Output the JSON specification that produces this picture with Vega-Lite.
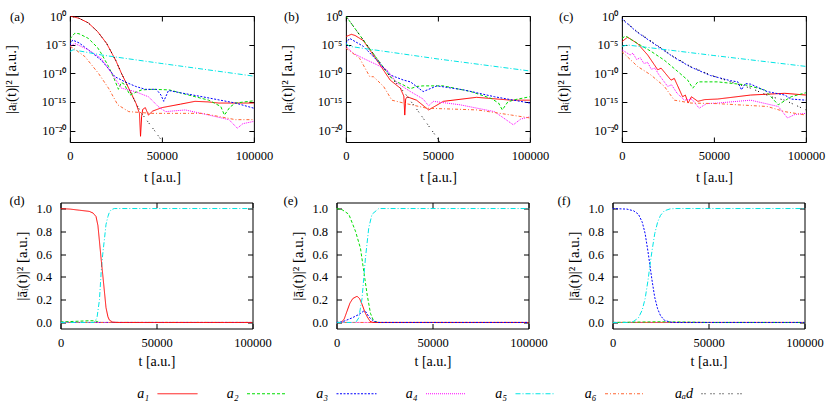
{
  "$schema": "https://vega.github.io/schema/vega-lite/v6.json",
  "padding": {"left": 2.5, "top": 9, "right": 0, "bottom": 0},
  "config": {
    "font": "Liberation Serif",
    "view": {"stroke": "black", "strokeWidth": 1},
    "axis": {
      "domain": false, "grid": false, "tickColor": "black", "tickSize": -5, "tickWidth": 1,
      "labelFont": "Liberation Serif", "labelFontSize": 12.5, "labelColor": "black",
      "titleFont": "Liberation Serif", "titleFontSize": 14, "titleFontWeight": "normal", "titleColor": "black",
      "labelFlush": false, "labelOverlap": false, "labelBound": false
    },
    "axisY": {"titleFontSize": 15},
    "title": {"font": "Liberation Serif", "fontSize": 13, "fontWeight": "normal", "anchor": "start", "frame": "group", "offset": 0, "baseline": "middle", "color": "black"},
    "legend": {
      "orient": "none", "legendX": 96.5, "legendY": 357, "direction": "horizontal", "columns": 7,
      "symbolType": "stroke", "symbolSize": 1600, "symbolStrokeWidth": 1, "columnPadding": 26.5,
      "labelAlign": "right", "labelOffset": -49,
      "labelFont": "Liberation Serif", "labelFontSize": 14, "labelFontStyle": "italic", "labelColor": "black"
    }
  },
  "datasets": {
    "a": [
      {"series":"a1","t":0,"v":1},{"series":"a1","t":5000,"v":0.398},{"series":"a1","t":10000,"v":0.0631},{"series":"a1","t":15000,"v":0.002},{"series":"a1","t":20000,"v":1.58e-5},{"series":"a1","t":25000,"v":1.58e-8},{"series":"a1","t":28000,"v":1e-10},{"series":"a1","t":30000,"v":5.01e-12},{"series":"a1","t":33000,"v":5.01e-14},{"series":"a1","t":36000,"v":5.01e-16},{"series":"a1","t":37800,"v":1e-17},{"series":"a1","t":38400,"v":1e-21},{"series":"a1","t":39000,"v":3.16e-18},{"series":"a1","t":39600,"v":5.01e-17},{"series":"a1","t":41000,"v":1e-16},{"series":"a1","t":42700,"v":5.01e-18},{"series":"a1","t":45000,"v":2.51e-17},{"series":"a1","t":50000,"v":1e-16},{"series":"a1","t":55000,"v":2e-16},{"series":"a1","t":60000,"v":3.98e-16},{"series":"a1","t":68000,"v":1.26e-15},{"series":"a1","t":75000,"v":1e-15},{"series":"a1","t":81000,"v":6.31e-16},{"series":"a1","t":90000,"v":6.31e-16},{"series":"a1","t":100000,"v":6.31e-16},
      {"series":"a2","t":0,"v":1e-4},{"series":"a2","t":2700,"v":1e-3},{"series":"a2","t":5000,"v":7.94e-4},{"series":"a2","t":10000,"v":1.26e-4},{"series":"a2","t":15000,"v":3.16e-6},{"series":"a2","t":17000,"v":3.16e-7},{"series":"a2","t":21000,"v":1.58e-9},{"series":"a2","t":23600,"v":2.51e-11},{"series":"a2","t":26400,"v":1.58e-13},{"series":"a2","t":28000,"v":2.51e-12},{"series":"a2","t":29500,"v":1.26e-12},{"series":"a2","t":32700,"v":1.58e-14},{"series":"a2","t":36000,"v":5.01e-14},{"series":"a2","t":39000,"v":1.26e-13},{"series":"a2","t":45000,"v":1.58e-13},{"series":"a2","t":54000,"v":1.26e-13},{"series":"a2","t":64500,"v":1.58e-14},{"series":"a2","t":75500,"v":2e-15},{"series":"a2","t":82000,"v":1.58e-16},{"series":"a2","t":84000,"v":5.01e-18},{"series":"a2","t":87000,"v":1.26e-16},{"series":"a2","t":90000,"v":6.31e-16},{"series":"a2","t":100000,"v":1.58e-15},
      {"series":"a3","t":0,"v":1e-5},{"series":"a3","t":1500,"v":6.31e-5},{"series":"a3","t":5000,"v":2e-5},{"series":"a3","t":10000,"v":1.26e-6},{"series":"a3","t":17000,"v":2e-8},{"series":"a3","t":20000,"v":1.58e-9},{"series":"a3","t":24500,"v":2.51e-11},{"series":"a3","t":30000,"v":3.16e-12},{"series":"a3","t":35800,"v":5.01e-13},{"series":"a3","t":41000,"v":1.58e-13},{"series":"a3","t":47000,"v":1.58e-13},{"series":"a3","t":49500,"v":1.58e-14},{"series":"a3","t":51000,"v":1.26e-15},{"series":"a3","t":53600,"v":1e-13},{"series":"a3","t":60000,"v":3.98e-14},{"series":"a3","t":72000,"v":7.94e-15},{"series":"a3","t":90000,"v":6.31e-16},{"series":"a3","t":100000,"v":7.94e-17},
      {"series":"a4","t":0,"v":5.01e-6},{"series":"a4","t":2700,"v":1.58e-5},{"series":"a4","t":10000,"v":1.26e-6},{"series":"a4","t":17000,"v":3.98e-8},{"series":"a4","t":22700,"v":1e-10},{"series":"a4","t":28000,"v":2.51e-13},{"series":"a4","t":35500,"v":6.31e-14},{"series":"a4","t":42700,"v":7.94e-15},{"series":"a4","t":48000,"v":1.58e-16},{"series":"a4","t":52000,"v":2e-17},{"series":"a4","t":62700,"v":3.98e-17},{"series":"a4","t":75500,"v":5.01e-18},{"series":"a4","t":86500,"v":7.94e-19},{"series":"a4","t":91000,"v":2.51e-20},{"series":"a4","t":94000,"v":1.58e-19},{"series":"a4","t":100000,"v":3.98e-19},
      {"series":"a5","t":0,"v":6.31e-7},{"series":"a5","t":1800,"v":1.26e-6},{"series":"a5","t":17000,"v":1.58e-7},{"series":"a5","t":50000,"v":5.01e-9},{"series":"a5","t":100000,"v":3.16e-11},
      {"series":"a6","t":0,"v":5.01e-6},{"series":"a6","t":1800,"v":2.51e-6},{"series":"a6","t":8200,"v":7.94e-8},{"series":"a6","t":15500,"v":1e-10},{"series":"a6","t":21000,"v":2.51e-13},{"series":"a6","t":26000,"v":3.16e-16},{"series":"a6","t":32000,"v":2e-17},{"series":"a6","t":44500,"v":1e-17},{"series":"a6","t":72000,"v":1e-17},{"series":"a6","t":90000,"v":7.94e-19},{"series":"a6","t":100000,"v":7.94e-19},
      {"series":"ad","t":0,"v":1},{"series":"ad","t":5000,"v":0.398},{"series":"ad","t":10000,"v":0.0631},{"series":"ad","t":15000,"v":0.002},{"series":"ad","t":20000,"v":1.58e-5},{"series":"ad","t":25000,"v":1.58e-8},{"series":"ad","t":28000,"v":1e-10},{"series":"ad","t":30000,"v":5.01e-12},{"series":"ad","t":33000,"v":5.01e-14},{"series":"ad","t":36000,"v":5.01e-16},{"series":"ad","t":39000,"v":1e-17},{"series":"ad","t":42000,"v":5.01e-19},{"series":"ad","t":46000,"v":1e-20},{"series":"ad","t":50000,"v":1.58e-22},{"series":"ad","t":52000,"v":1.58e-23}
    ],
    "b": [
      {"series":"a1","t":0,"v":2.51e-4},{"series":"a1","t":3000,"v":6.31e-4},{"series":"a1","t":5000,"v":3.98e-4},{"series":"a1","t":9500,"v":5.01e-5},{"series":"a1","t":16800,"v":2e-8},{"series":"a1","t":24100,"v":6.31e-12},{"series":"a1","t":29600,"v":2.51e-13},{"series":"a1","t":31500,"v":1e-14},{"series":"a1","t":32000,"v":5.01e-18},{"series":"a1","t":32500,"v":3.16e-15},{"series":"a1","t":33300,"v":7.94e-15},{"series":"a1","t":38400,"v":2e-15},{"series":"a1","t":45000,"v":3.98e-17},{"series":"a1","t":53000,"v":1.26e-15},{"series":"a1","t":71000,"v":6.31e-15},{"series":"a1","t":90000,"v":2e-15},{"series":"a1","t":100000,"v":2e-15},
      {"series":"a2","t":0,"v":1},{"series":"a2","t":9500,"v":6.31e-5},{"series":"a2","t":16800,"v":3.98e-8},{"series":"a2","t":24100,"v":2.51e-11},{"series":"a2","t":27000,"v":3.98e-12},{"series":"a2","t":31000,"v":1e-12},{"series":"a2","t":35000,"v":2e-13},{"series":"a2","t":38500,"v":5.01e-13},{"series":"a2","t":42000,"v":6.31e-13},{"series":"a2","t":53000,"v":6.31e-13},{"series":"a2","t":68000,"v":6.31e-14},{"series":"a2","t":79000,"v":3.98e-15},{"series":"a2","t":83000,"v":6.31e-16},{"series":"a2","t":85000,"v":3.98e-17},{"series":"a2","t":88000,"v":1e-15},{"series":"a2","t":92000,"v":2.51e-15},{"series":"a2","t":100000,"v":7.94e-15},
      {"series":"a3","t":0,"v":1.58e-5},{"series":"a3","t":2000,"v":1.26e-4},{"series":"a3","t":9500,"v":5.01e-6},{"series":"a3","t":16800,"v":2e-8},{"series":"a3","t":24100,"v":5.01e-11},{"series":"a3","t":31400,"v":6.31e-12},{"series":"a3","t":35100,"v":3.16e-12},{"series":"a3","t":42000,"v":6.31e-14},{"series":"a3","t":49500,"v":6.31e-13},{"series":"a3","t":64000,"v":1.26e-13},{"series":"a3","t":80800,"v":7.94e-15},{"series":"a3","t":100000,"v":6.31e-16},
      {"series":"a4","t":0,"v":5.01e-6},{"series":"a4","t":4000,"v":3.16e-7},{"series":"a4","t":9500,"v":3.98e-8},{"series":"a4","t":16800,"v":3.16e-9},{"series":"a4","t":22300,"v":3.98e-10},{"series":"a4","t":27800,"v":2e-12},{"series":"a4","t":35100,"v":6.31e-14},{"series":"a4","t":42000,"v":3.16e-15},{"series":"a4","t":45000,"v":2e-16},{"series":"a4","t":47500,"v":1.26e-15},{"series":"a4","t":62000,"v":3.16e-16},{"series":"a4","t":80800,"v":2e-17},{"series":"a4","t":91000,"v":1e-19},{"series":"a4","t":95000,"v":1e-18},{"series":"a4","t":100000,"v":2.51e-18},
      {"series":"a5","t":0,"v":1.58e-5},{"series":"a5","t":2000,"v":5.01e-6},{"series":"a5","t":50000,"v":3.16e-8},{"series":"a5","t":100000,"v":2.51e-10},
      {"series":"a6","t":0,"v":2.51e-6},{"series":"a6","t":7500,"v":3.98e-8},{"series":"a6","t":13000,"v":2.51e-11},{"series":"a6","t":15000,"v":2.51e-11},{"series":"a6","t":20500,"v":5.01e-13},{"series":"a6","t":25000,"v":2e-15},{"series":"a6","t":31400,"v":6.31e-16},{"series":"a6","t":44000,"v":7.94e-17},{"series":"a6","t":71500,"v":3.98e-17},{"series":"a6","t":90000,"v":5.01e-18},{"series":"a6","t":100000,"v":1.58e-18},
      {"series":"ad","t":0,"v":1},{"series":"ad","t":9500,"v":6.31e-5},{"series":"ad","t":16800,"v":3.98e-8},{"series":"ad","t":24100,"v":2.51e-11},{"series":"ad","t":31400,"v":6.31e-14},{"series":"ad","t":38800,"v":3.98e-17},{"series":"ad","t":47900,"v":3.16e-21},{"series":"ad","t":52000,"v":3.98e-23}
    ],
    "c": [
      {"series":"a1","t":0,"v":3.16e-5},{"series":"a1","t":3100,"v":2e-4},{"series":"a1","t":8500,"v":1.58e-5},{"series":"a1","t":14000,"v":1.58e-7},{"series":"a1","t":17600,"v":3.16e-9},{"series":"a1","t":19500,"v":3.98e-10},{"series":"a1","t":21300,"v":7.94e-10},{"series":"a1","t":26700,"v":6.31e-12},{"series":"a1","t":28500,"v":1.26e-11},{"series":"a1","t":33000,"v":7.94e-15},{"series":"a1","t":34500,"v":1.58e-14},{"series":"a1","t":36000,"v":6.31e-16},{"series":"a1","t":37800,"v":7.94e-15},{"series":"a1","t":41300,"v":1.26e-15},{"series":"a1","t":45000,"v":2.51e-15},{"series":"a1","t":52000,"v":3.16e-15},{"series":"a1","t":70000,"v":1.58e-14},{"series":"a1","t":88500,"v":3.16e-14},{"series":"a1","t":100000,"v":1.58e-14},
      {"series":"a2","t":0,"v":1.26e-4},{"series":"a2","t":2000,"v":3.16e-4},{"series":"a2","t":8500,"v":1.58e-5},{"series":"a2","t":16000,"v":6.31e-7},{"series":"a2","t":23000,"v":2e-8},{"series":"a2","t":30400,"v":2e-10},{"series":"a2","t":35800,"v":6.31e-12},{"series":"a2","t":38500,"v":2.51e-13},{"series":"a2","t":41300,"v":3.16e-12},{"series":"a2","t":52000,"v":3.16e-12},{"series":"a2","t":66700,"v":1e-12},{"series":"a2","t":77600,"v":1.26e-13},{"series":"a2","t":85000,"v":3.16e-16},{"series":"a2","t":92000,"v":7.94e-15},{"series":"a2","t":100000,"v":3.98e-14},
      {"series":"a3","t":0,"v":0.316},{"series":"a3","t":8200,"v":1.58e-3},{"series":"a3","t":19100,"v":6.31e-6},{"series":"a3","t":28200,"v":6.31e-8},{"series":"a3","t":37300,"v":1.26e-9},{"series":"a3","t":48200,"v":3.98e-11},{"series":"a3","t":59100,"v":5.01e-12},{"series":"a3","t":63000,"v":3.16e-12},{"series":"a3","t":65000,"v":1.26e-13},{"series":"a3","t":67000,"v":1.58e-12},{"series":"a3","t":70000,"v":1.26e-12},{"series":"a3","t":79000,"v":6.31e-14},{"series":"a3","t":88500,"v":1.58e-14},{"series":"a3","t":92000,"v":3.16e-15},{"series":"a3","t":100000,"v":2e-15},
      {"series":"a4","t":0,"v":1.26e-6},{"series":"a4","t":4500,"v":1.58e-7},{"series":"a4","t":6000,"v":3.16e-7},{"series":"a4","t":8000,"v":2.51e-8},{"series":"a4","t":10000,"v":5.01e-8},{"series":"a4","t":12000,"v":5.01e-9},{"series":"a4","t":14000,"v":7.94e-9},{"series":"a4","t":16000,"v":5.01e-10},{"series":"a4","t":18000,"v":7.94e-10},{"series":"a4","t":20000,"v":6.31e-11},{"series":"a4","t":24900,"v":5.01e-13},{"series":"a4","t":27000,"v":1e-12},{"series":"a4","t":30000,"v":3.16e-14},{"series":"a4","t":34000,"v":2e-15},{"series":"a4","t":38000,"v":3.16e-15},{"series":"a4","t":42000,"v":7.94e-17},{"series":"a4","t":46000,"v":5.01e-16},{"series":"a4","t":52000,"v":6.31e-16},{"series":"a4","t":70000,"v":2e-15},{"series":"a4","t":85000,"v":1.58e-16},{"series":"a4","t":90000,"v":1.58e-18},{"series":"a4","t":94000,"v":6.31e-18},{"series":"a4","t":100000,"v":1e-17},
      {"series":"a5","t":0,"v":5.01e-6},{"series":"a5","t":3000,"v":8.7e-6},{"series":"a5","t":50000,"v":1.26e-7},{"series":"a5","t":100000,"v":1.58e-9},
      {"series":"a6","t":0,"v":6.31e-7},{"series":"a6","t":8500,"v":1.58e-9},{"series":"a6","t":15800,"v":5.01e-11},{"series":"a6","t":23100,"v":5.01e-13},{"series":"a6","t":28500,"v":2e-15},{"series":"a6","t":37600,"v":6.31e-16},{"series":"a6","t":52000,"v":5.01e-16},{"series":"a6","t":79000,"v":1.58e-16},{"series":"a6","t":88500,"v":2e-17},{"series":"a6","t":100000,"v":5.01e-18},
      {"series":"ad","t":0,"v":0.398},{"series":"ad","t":8200,"v":2e-3},{"series":"ad","t":19100,"v":7.94e-6},{"series":"ad","t":28200,"v":7.94e-8},{"series":"ad","t":37300,"v":1.58e-9},{"series":"ad","t":48200,"v":5.01e-11},{"series":"ad","t":59100,"v":3.16e-12},{"series":"ad","t":70000,"v":2.51e-13},{"series":"ad","t":81000,"v":7.94e-15},{"series":"ad","t":88500,"v":2e-15},{"series":"ad","t":100000,"v":3.98e-17}
    ],
    "d": [
      {"series":"a2","t":0,"v":0.005},{"series":"a2","t":8000,"v":0.01},{"series":"a2","t":15000,"v":0.015},{"series":"a2","t":18000,"v":0.015},{"series":"a2","t":19500,"v":0.005},{"series":"a2","t":21000,"v":0},{"series":"a2","t":100000,"v":0},
      {"series":"a3","t":0,"v":0},{"series":"a3","t":100000,"v":0},
      {"series":"a4","t":0,"v":0},{"series":"a4","t":100000,"v":0},
      {"series":"a6","t":0,"v":0},{"series":"a6","t":100000,"v":0},
      {"series":"a5","t":0,"v":0},{"series":"a5","t":17500,"v":0},{"series":"a5","t":19000,"v":0.04},{"series":"a5","t":20300,"v":0.2},{"series":"a5","t":21200,"v":0.45},{"series":"a5","t":22000,"v":0.6},{"series":"a5","t":23000,"v":0.75},{"series":"a5","t":23700,"v":0.86},{"series":"a5","t":24700,"v":0.93},{"series":"a5","t":25500,"v":0.97},{"series":"a5","t":26500,"v":0.99},{"series":"a5","t":28000,"v":1},{"series":"a5","t":100000,"v":1},
      {"series":"a1","t":0,"v":1},{"series":"a1","t":5000,"v":0.995},{"series":"a1","t":10000,"v":0.985},{"series":"a1","t":15000,"v":0.975},{"series":"a1","t":17000,"v":0.96},{"series":"a1","t":18500,"v":0.93},{"series":"a1","t":19500,"v":0.85},{"series":"a1","t":20300,"v":0.71},{"series":"a1","t":21200,"v":0.55},{"series":"a1","t":22000,"v":0.42},{"series":"a1","t":23000,"v":0.25},{"series":"a1","t":23700,"v":0.13},{"series":"a1","t":24700,"v":0.05},{"series":"a1","t":25500,"v":0.02},{"series":"a1","t":27200,"v":0.003},{"series":"a1","t":30000,"v":0},{"series":"a1","t":100000,"v":0}
    ],
    "e": [
      {"series":"a4","t":0,"v":0},{"series":"a4","t":100000,"v":0},
      {"series":"a6","t":0,"v":0},{"series":"a6","t":100000,"v":0},
      {"series":"a2","t":0,"v":1},{"series":"a2","t":2900,"v":0.99},{"series":"a2","t":6400,"v":0.95},{"series":"a2","t":9900,"v":0.8},{"series":"a2","t":12500,"v":0.65},{"series":"a2","t":14200,"v":0.45},{"series":"a2","t":16000,"v":0.24},{"series":"a2","t":17700,"v":0.08},{"series":"a2","t":19400,"v":0.01},{"series":"a2","t":22000,"v":0},{"series":"a2","t":100000,"v":0},
      {"series":"a1","t":0,"v":0},{"series":"a1","t":2500,"v":0},{"series":"a1","t":4000,"v":0.03},{"series":"a1","t":5500,"v":0.1},{"series":"a1","t":7000,"v":0.17},{"series":"a1","t":8500,"v":0.21},{"series":"a1","t":10700,"v":0.23},{"series":"a1","t":12000,"v":0.21},{"series":"a1","t":13300,"v":0.16},{"series":"a1","t":14800,"v":0.09},{"series":"a1","t":16000,"v":0.05},{"series":"a1","t":17500,"v":0.01},{"series":"a1","t":19000,"v":0},{"series":"a1","t":100000,"v":0},
      {"series":"a3","t":0,"v":0},{"series":"a3","t":3000,"v":0.005},{"series":"a3","t":8100,"v":0.04},{"series":"a3","t":11600,"v":0.07},{"series":"a3","t":14200,"v":0.1},{"series":"a3","t":15500,"v":0.09},{"series":"a3","t":16800,"v":0.05},{"series":"a3","t":19400,"v":0.01},{"series":"a3","t":22000,"v":0},{"series":"a3","t":100000,"v":0},
      {"series":"a5","t":0,"v":0},{"series":"a5","t":10000,"v":0},{"series":"a5","t":11600,"v":0.04},{"series":"a5","t":13300,"v":0.21},{"series":"a5","t":15100,"v":0.57},{"series":"a5","t":16800,"v":0.83},{"series":"a5","t":18500,"v":0.95},{"series":"a5","t":22000,"v":1},{"series":"a5","t":100000,"v":1}
    ],
    "f": [
      {"series":"a1","t":0,"v":0},{"series":"a1","t":100000,"v":0},
      {"series":"a4","t":0,"v":0},{"series":"a4","t":100000,"v":0},
      {"series":"a6","t":0,"v":0},{"series":"a6","t":100000,"v":0},
      {"series":"a2","t":0,"v":0},{"series":"a2","t":12000,"v":0.003},{"series":"a2","t":25000,"v":0.006},{"series":"a2","t":40000,"v":0.003},{"series":"a2","t":50000,"v":0},{"series":"a2","t":100000,"v":0},
      {"series":"a3","t":0,"v":1},{"series":"a3","t":7500,"v":0.995},{"series":"a3","t":11000,"v":0.98},{"series":"a3","t":13500,"v":0.95},{"series":"a3","t":15500,"v":0.88},{"series":"a3","t":17000,"v":0.78},{"series":"a3","t":18500,"v":0.62},{"series":"a3","t":19500,"v":0.5},{"series":"a3","t":20500,"v":0.38},{"series":"a3","t":22000,"v":0.22},{"series":"a3","t":23500,"v":0.12},{"series":"a3","t":25000,"v":0.06},{"series":"a3","t":27000,"v":0.02},{"series":"a3","t":30000,"v":0.003},{"series":"a3","t":32000,"v":0},{"series":"a3","t":100000,"v":0},
      {"series":"a5","t":0,"v":0},{"series":"a5","t":9000,"v":0},{"series":"a5","t":11000,"v":0.01},{"series":"a5","t":13500,"v":0.04},{"series":"a5","t":15500,"v":0.11},{"series":"a5","t":17000,"v":0.21},{"series":"a5","t":18500,"v":0.37},{"series":"a5","t":19500,"v":0.5},{"series":"a5","t":20500,"v":0.62},{"series":"a5","t":22000,"v":0.78},{"series":"a5","t":23500,"v":0.88},{"series":"a5","t":25000,"v":0.94},{"series":"a5","t":27000,"v":0.98},{"series":"a5","t":30000,"v":0.997},{"series":"a5","t":33000,"v":1},{"series":"a5","t":100000,"v":1}
    ]
  },
  "center": true,
  "spacing": 9.5,
  "vconcat": [
    {
      "hconcat": [
        {
          "width": 184, "height": 126, "data": {"name": "a"},
          "title": {"text": "(a)", "dx": -60, "dy": 18},
          "layer": [
            {"mark": {"type": "line", "strokeWidth": 1, "clip": true},
             "encoding": {
               "x": {"field": "t", "type": "quantitative", "scale": {"domain": [0, 100000]}, "axis": {"values": [0, 50000, 100000], "format": "d", "title": "t [a.u.]", "labelPadding": 12.5, "titlePadding": 8}},
               "y": {"field": "v", "type": "quantitative", "scale": {"type": "log", "domain": [1e-22, 1]}, "axis": {"values": [1, 1e-5, 1e-10, 1e-15, 1e-20], "labelExpr": "datum.value > 0.5 ? '10⁰' : datum.value > 1e-7 ? '10⁻⁵' : datum.value > 1e-12 ? '10⁻¹⁰' : datum.value > 1e-17 ? '10⁻¹⁵' : '10⁻²⁰'", "title": "|aᵢ(t)|² [a.u.]", "labelPadding": 9, "titlePadding": 22.5}},
               "color": {"field": "series", "type": "nominal", "scale": {"domain": ["a1","a2","a3","a4","a5","a6","ad"], "range": ["#ff0000","#00dd00","#0000ff","#ff00ff","#00e5e5","#ff6633","#000000"]}, "legend": {"title": null, "labelExpr": "datum.label == 'a1' ? 'a₁' : datum.label == 'a2' ? 'a₂' : datum.label == 'a3' ? 'a₃' : datum.label == 'a4' ? 'a₄' : datum.label == 'a5' ? 'a₅' : datum.label == 'a6' ? 'a₆' : 'aₐd'"}},
               "strokeDash": {"field": "series", "type": "nominal", "scale": {"domain": ["a1","a2","a3","a4","a5","a6","ad"], "range": [[1,0],[3,2],[2,1.5],[1,1],[5,2,1,2],[3,2,1,2],[1,2,1,5]]}, "legend": {"title": null, "labelExpr": "datum.label == 'a1' ? 'a₁' : datum.label == 'a2' ? 'a₂' : datum.label == 'a3' ? 'a₃' : datum.label == 'a4' ? 'a₄' : datum.label == 'a5' ? 'a₅' : datum.label == 'a6' ? 'a₆' : 'aₐd'"}}
             }},
            {"mark": {"type": "line", "opacity": 0},
             "encoding": {
               "x": {"field": "t", "type": "quantitative", "scale": {"domain": [0, 100000]}, "axis": {"orient": "top", "values": [0, 50000, 100000], "labels": false, "title": null}},
               "y": {"field": "v", "type": "quantitative", "scale": {"type": "log", "domain": [1e-22, 1]}, "axis": {"orient": "right", "values": [1, 1e-5, 1e-10, 1e-15, 1e-20], "labels": false, "title": null}}
             }}
          ],
          "resolve": {"axis": {"x": "independent", "y": "independent"}}
        },
        {
          "width": 184, "height": 126, "data": {"name": "b"},
          "title": {"text": "(b)", "dx": -62, "dy": 18},
          "layer": [
            {"mark": {"type": "line", "strokeWidth": 1, "clip": true},
             "encoding": {
               "x": {"field": "t", "type": "quantitative", "scale": {"domain": [0, 100000]}, "axis": {"values": [0, 50000, 100000], "format": "d", "title": "t [a.u.]", "labelPadding": 12.5, "titlePadding": 8}},
               "y": {"field": "v", "type": "quantitative", "scale": {"type": "log", "domain": [1e-22, 1]}, "axis": {"values": [1, 1e-5, 1e-10, 1e-15, 1e-20], "labelExpr": "datum.value > 0.5 ? '10⁰' : datum.value > 1e-7 ? '10⁻⁵' : datum.value > 1e-12 ? '10⁻¹⁰' : datum.value > 1e-17 ? '10⁻¹⁵' : '10⁻²⁰'", "title": "|aᵢ(t)|² [a.u.]", "labelPadding": 9, "titlePadding": 22.5}},
               "color": {"field": "series", "type": "nominal", "scale": {"domain": ["a1","a2","a3","a4","a5","a6","ad"], "range": ["#ff0000","#00dd00","#0000ff","#ff00ff","#00e5e5","#ff6633","#000000"]}, "legend": {"title": null}},
               "strokeDash": {"field": "series", "type": "nominal", "scale": {"domain": ["a1","a2","a3","a4","a5","a6","ad"], "range": [[1,0],[3,2],[2,1.5],[1,1],[5,2,1,2],[3,2,1,2],[1,2,1,5]]}, "legend": {"title": null}}
             }},
            {"mark": {"type": "line", "opacity": 0},
             "encoding": {
               "x": {"field": "t", "type": "quantitative", "scale": {"domain": [0, 100000]}, "axis": {"orient": "top", "values": [0, 50000, 100000], "labels": false, "title": null}},
               "y": {"field": "v", "type": "quantitative", "scale": {"type": "log", "domain": [1e-22, 1]}, "axis": {"orient": "right", "values": [1, 1e-5, 1e-10, 1e-15, 1e-20], "labels": false, "title": null}}
             }}
          ],
          "resolve": {"axis": {"x": "independent", "y": "independent"}}
        },
        {
          "width": 184, "height": 126, "data": {"name": "c"},
          "title": {"text": "(c)", "dx": -63, "dy": 18},
          "layer": [
            {"mark": {"type": "line", "strokeWidth": 1, "clip": true},
             "encoding": {
               "x": {"field": "t", "type": "quantitative", "scale": {"domain": [0, 100000]}, "axis": {"values": [0, 50000, 100000], "format": "d", "title": "t [a.u.]", "labelPadding": 12.5, "titlePadding": 8}},
               "y": {"field": "v", "type": "quantitative", "scale": {"type": "log", "domain": [1e-22, 1]}, "axis": {"values": [1, 1e-5, 1e-10, 1e-15, 1e-20], "labelExpr": "datum.value > 0.5 ? '10⁰' : datum.value > 1e-7 ? '10⁻⁵' : datum.value > 1e-12 ? '10⁻¹⁰' : datum.value > 1e-17 ? '10⁻¹⁵' : '10⁻²⁰'", "title": "|aᵢ(t)|² [a.u.]", "labelPadding": 9, "titlePadding": 22.5}},
               "color": {"field": "series", "type": "nominal", "scale": {"domain": ["a1","a2","a3","a4","a5","a6","ad"], "range": ["#ff0000","#00dd00","#0000ff","#ff00ff","#00e5e5","#ff6633","#000000"]}, "legend": {"title": null}},
               "strokeDash": {"field": "series", "type": "nominal", "scale": {"domain": ["a1","a2","a3","a4","a5","a6","ad"], "range": [[1,0],[3,2],[2,1.5],[1,1],[5,2,1,2],[3,2,1,2],[1,2,1,5]]}, "legend": {"title": null}}
             }},
            {"mark": {"type": "line", "opacity": 0},
             "encoding": {
               "x": {"field": "t", "type": "quantitative", "scale": {"domain": [0, 100000]}, "axis": {"orient": "top", "values": [0, 50000, 100000], "labels": false, "title": null}},
               "y": {"field": "v", "type": "quantitative", "scale": {"type": "log", "domain": [1e-22, 1]}, "axis": {"orient": "right", "values": [1, 1e-5, 1e-10, 1e-15, 1e-20], "labels": false, "title": null}}
             }}
          ],
          "resolve": {"axis": {"x": "independent", "y": "independent"}}
        }
      ],
      "spacing": 92,
      "bounds": "flush"
    },
    {
      "hconcat": [
        {
          "width": 192, "height": 126, "data": {"name": "d"},
          "title": {"text": "(d)", "dx": -51, "dy": 10},
          "layer": [
            {"mark": {"type": "line", "strokeWidth": 1, "clip": true},
             "encoding": {
               "x": {"field": "t", "type": "quantitative", "scale": {"domain": [0, 100000]}, "axis": {"values": [0, 50000, 100000], "format": "d", "title": "t [a.u.]", "labelPadding": 12.5, "titlePadding": 6}},
               "y": {"field": "v", "type": "quantitative", "scale": {"domain": [-0.053, 1.053]}, "axis": {"values": [0, 0.2, 0.4, 0.6, 0.8, 1], "format": ".1f", "title": "|āᵢ(t)|² [a.u.]", "labelPadding": 14, "titlePadding": 6.5}},
               "color": {"field": "series", "type": "nominal", "scale": {"domain": ["a1","a2","a3","a4","a5","a6","ad"], "range": ["#ff0000","#00dd00","#0000ff","#ff00ff","#00e5e5","#ff6633","#000000"]}, "legend": {"title": null}},
               "strokeDash": {"field": "series", "type": "nominal", "scale": {"domain": ["a1","a2","a3","a4","a5","a6","ad"], "range": [[1,0],[3,2],[2,1.5],[1,1],[5,2,1,2],[3,2,1,2],[1,2,1,5]]}, "legend": {"title": null}}
             }},
            {"mark": {"type": "line", "opacity": 0},
             "encoding": {
               "x": {"field": "t", "type": "quantitative", "scale": {"domain": [0, 100000]}, "axis": {"orient": "top", "values": [0, 50000, 100000], "labels": false, "title": null}},
               "y": {"field": "v", "type": "quantitative", "scale": {"domain": [-0.053, 1.053]}, "axis": {"orient": "right", "values": [0, 0.2, 0.4, 0.6, 0.8, 1], "labels": false, "title": null}}
             }}
          ],
          "resolve": {"axis": {"x": "independent", "y": "independent"}}
        },
        {
          "width": 192, "height": 126, "data": {"name": "e"},
          "title": {"text": "(e)", "dx": -53, "dy": 10},
          "layer": [
            {"mark": {"type": "line", "strokeWidth": 1, "clip": true},
             "encoding": {
               "x": {"field": "t", "type": "quantitative", "scale": {"domain": [0, 100000]}, "axis": {"values": [0, 50000, 100000], "format": "d", "title": "t [a.u.]", "labelPadding": 12.5, "titlePadding": 6}},
               "y": {"field": "v", "type": "quantitative", "scale": {"domain": [-0.053, 1.053]}, "axis": {"values": [0, 0.2, 0.4, 0.6, 0.8, 1], "format": ".1f", "title": "|āᵢ(t)|² [a.u.]", "labelPadding": 14, "titlePadding": 6.5}},
               "color": {"field": "series", "type": "nominal", "scale": {"domain": ["a1","a2","a3","a4","a5","a6","ad"], "range": ["#ff0000","#00dd00","#0000ff","#ff00ff","#00e5e5","#ff6633","#000000"]}, "legend": {"title": null}},
               "strokeDash": {"field": "series", "type": "nominal", "scale": {"domain": ["a1","a2","a3","a4","a5","a6","ad"], "range": [[1,0],[3,2],[2,1.5],[1,1],[5,2,1,2],[3,2,1,2],[1,2,1,5]]}, "legend": {"title": null}}
             }},
            {"mark": {"type": "line", "opacity": 0},
             "encoding": {
               "x": {"field": "t", "type": "quantitative", "scale": {"domain": [0, 100000]}, "axis": {"orient": "top", "values": [0, 50000, 100000], "labels": false, "title": null}},
               "y": {"field": "v", "type": "quantitative", "scale": {"domain": [-0.053, 1.053]}, "axis": {"orient": "right", "values": [0, 0.2, 0.4, 0.6, 0.8, 1], "labels": false, "title": null}}
             }}
          ],
          "resolve": {"axis": {"x": "independent", "y": "independent"}}
        },
        {
          "width": 192, "height": 126, "data": {"name": "f"},
          "title": {"text": "(f)", "dx": -55, "dy": 10},
          "layer": [
            {"mark": {"type": "line", "strokeWidth": 1, "clip": true},
             "encoding": {
               "x": {"field": "t", "type": "quantitative", "scale": {"domain": [0, 100000]}, "axis": {"values": [0, 50000, 100000], "format": "d", "title": "t [a.u.]", "labelPadding": 12.5, "titlePadding": 6}},
               "y": {"field": "v", "type": "quantitative", "scale": {"domain": [-0.053, 1.053]}, "axis": {"values": [0, 0.2, 0.4, 0.6, 0.8, 1], "format": ".1f", "title": "|āᵢ(t)|² [a.u.]", "labelPadding": 14, "titlePadding": 6.5}},
               "color": {"field": "series", "type": "nominal", "scale": {"domain": ["a1","a2","a3","a4","a5","a6","ad"], "range": ["#ff0000","#00dd00","#0000ff","#ff00ff","#00e5e5","#ff6633","#000000"]}, "legend": {"title": null}},
               "strokeDash": {"field": "series", "type": "nominal", "scale": {"domain": ["a1","a2","a3","a4","a5","a6","ad"], "range": [[1,0],[3,2],[2,1.5],[1,1],[5,2,1,2],[3,2,1,2],[1,2,1,5]]}, "legend": {"title": null}}
             }},
            {"mark": {"type": "line", "opacity": 0},
             "encoding": {
               "x": {"field": "t", "type": "quantitative", "scale": {"domain": [0, 100000]}, "axis": {"orient": "top", "values": [0, 50000, 100000], "labels": false, "title": null}},
               "y": {"field": "v", "type": "quantitative", "scale": {"domain": [-0.053, 1.053]}, "axis": {"orient": "right", "values": [0, 0.2, 0.4, 0.6, 0.8, 1], "labels": false, "title": " ", "titleFontSize": 14, "titlePadding": 15}}
             }}
          ],
          "resolve": {"axis": {"x": "independent", "y": "independent"}}
        }
      ],
      "spacing": 84,
      "bounds": "flush"
    }
  ]
}
